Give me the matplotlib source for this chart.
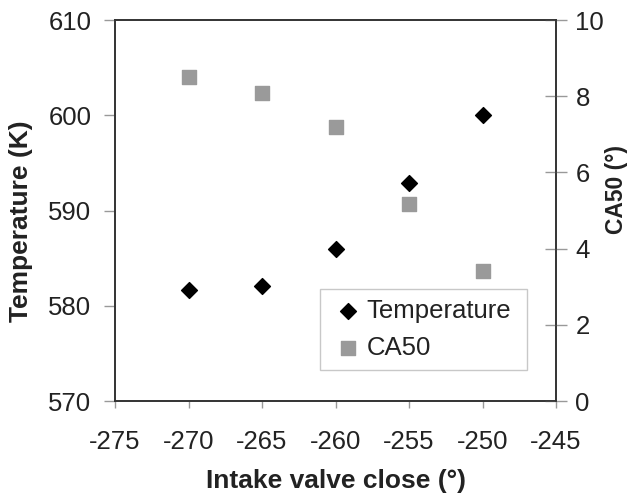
import matplotlib.pyplot as plt

plt.rcParams['font.family'] = ['Liberation Sans', 'DejaVu Sans']
plt.rcParams['axes.unicode_minus'] = False

ivc = [-270, -265, -260, -255, -250]
temperature = [581.7, 582.1, 586.0, 592.9, 600.0]
ca50 = [8.5, 8.08, 7.2, 5.17, 3.41]

fig = plt.figure(figsize=(6.27, 4.98), dpi=100)
ax = fig.add_axes([115 / 627, 1 - 401 / 498, 441 / 627, 381 / 498])
ax2 = ax.twinx()

tcol = '#222222'
ax.scatter(ivc, temperature, marker='D', s=65, color='black', zorder=3, label='Temperature')
ax2.scatter(ivc, ca50, marker='s', s=115, color='#9a9a9a', zorder=3, label='CA50')

ax.set_xlim(-275, -245)
ax.set_ylim(570, 610)
ax2.set_ylim(0, 10)
ax.set_xticks(range(-275, -244, 5))
ax.set_yticks(range(570, 611, 10))
ax2.set_yticks(range(0, 11, 2))

for a in (ax, ax2):
    for s in a.spines.values():
        s.set_color('#333333')
        s.set_linewidth(1.2)
    a.tick_params(labelsize=18.5, colors=tcol, length=8, width=1)
ax.tick_params(axis='x', length=5, pad=16, color='#999999')
ax.tick_params(axis='y', color='#999999', pad=9)
ax2.tick_params(axis='y', direction='inout', length=16, color='#999999', pad=6)

ax.set_xlabel('Intake valve close (°)', fontsize=19, fontweight='bold', color=tcol, labelpad=11)
ax.set_ylabel('Temperature (K)', fontsize=19, fontweight='bold', color=tcol)
ax2.set_ylabel('CA50 (°)', fontsize=16.5, fontweight='bold', color=tcol)
ax.yaxis.set_label_coords(-0.186, 0.472)
ax2.yaxis.set_label_coords(1.111, 0.554)

h1, l1 = ax.get_legend_handles_labels()
h2, l2 = ax2.get_legend_handles_labels()
leg = ax2.legend(h1 + h2, l1 + l2, loc='lower left',
                 bbox_to_anchor=(205 / 441, 31 / 381, 207 / 441, 84 / 381),
                 mode='expand', borderaxespad=0, fontsize=18.5, frameon=True, fancybox=False,
                 handletextpad=0.0, borderpad=0.4, labelspacing=0.5, handlelength=1.4)
leg.get_frame().set_edgecolor('#bbbbbb')
leg.get_frame().set_linewidth(1)
for t in leg.get_texts():
    t.set_color(tcol)

fig.savefig('out.png', dpi=100)
